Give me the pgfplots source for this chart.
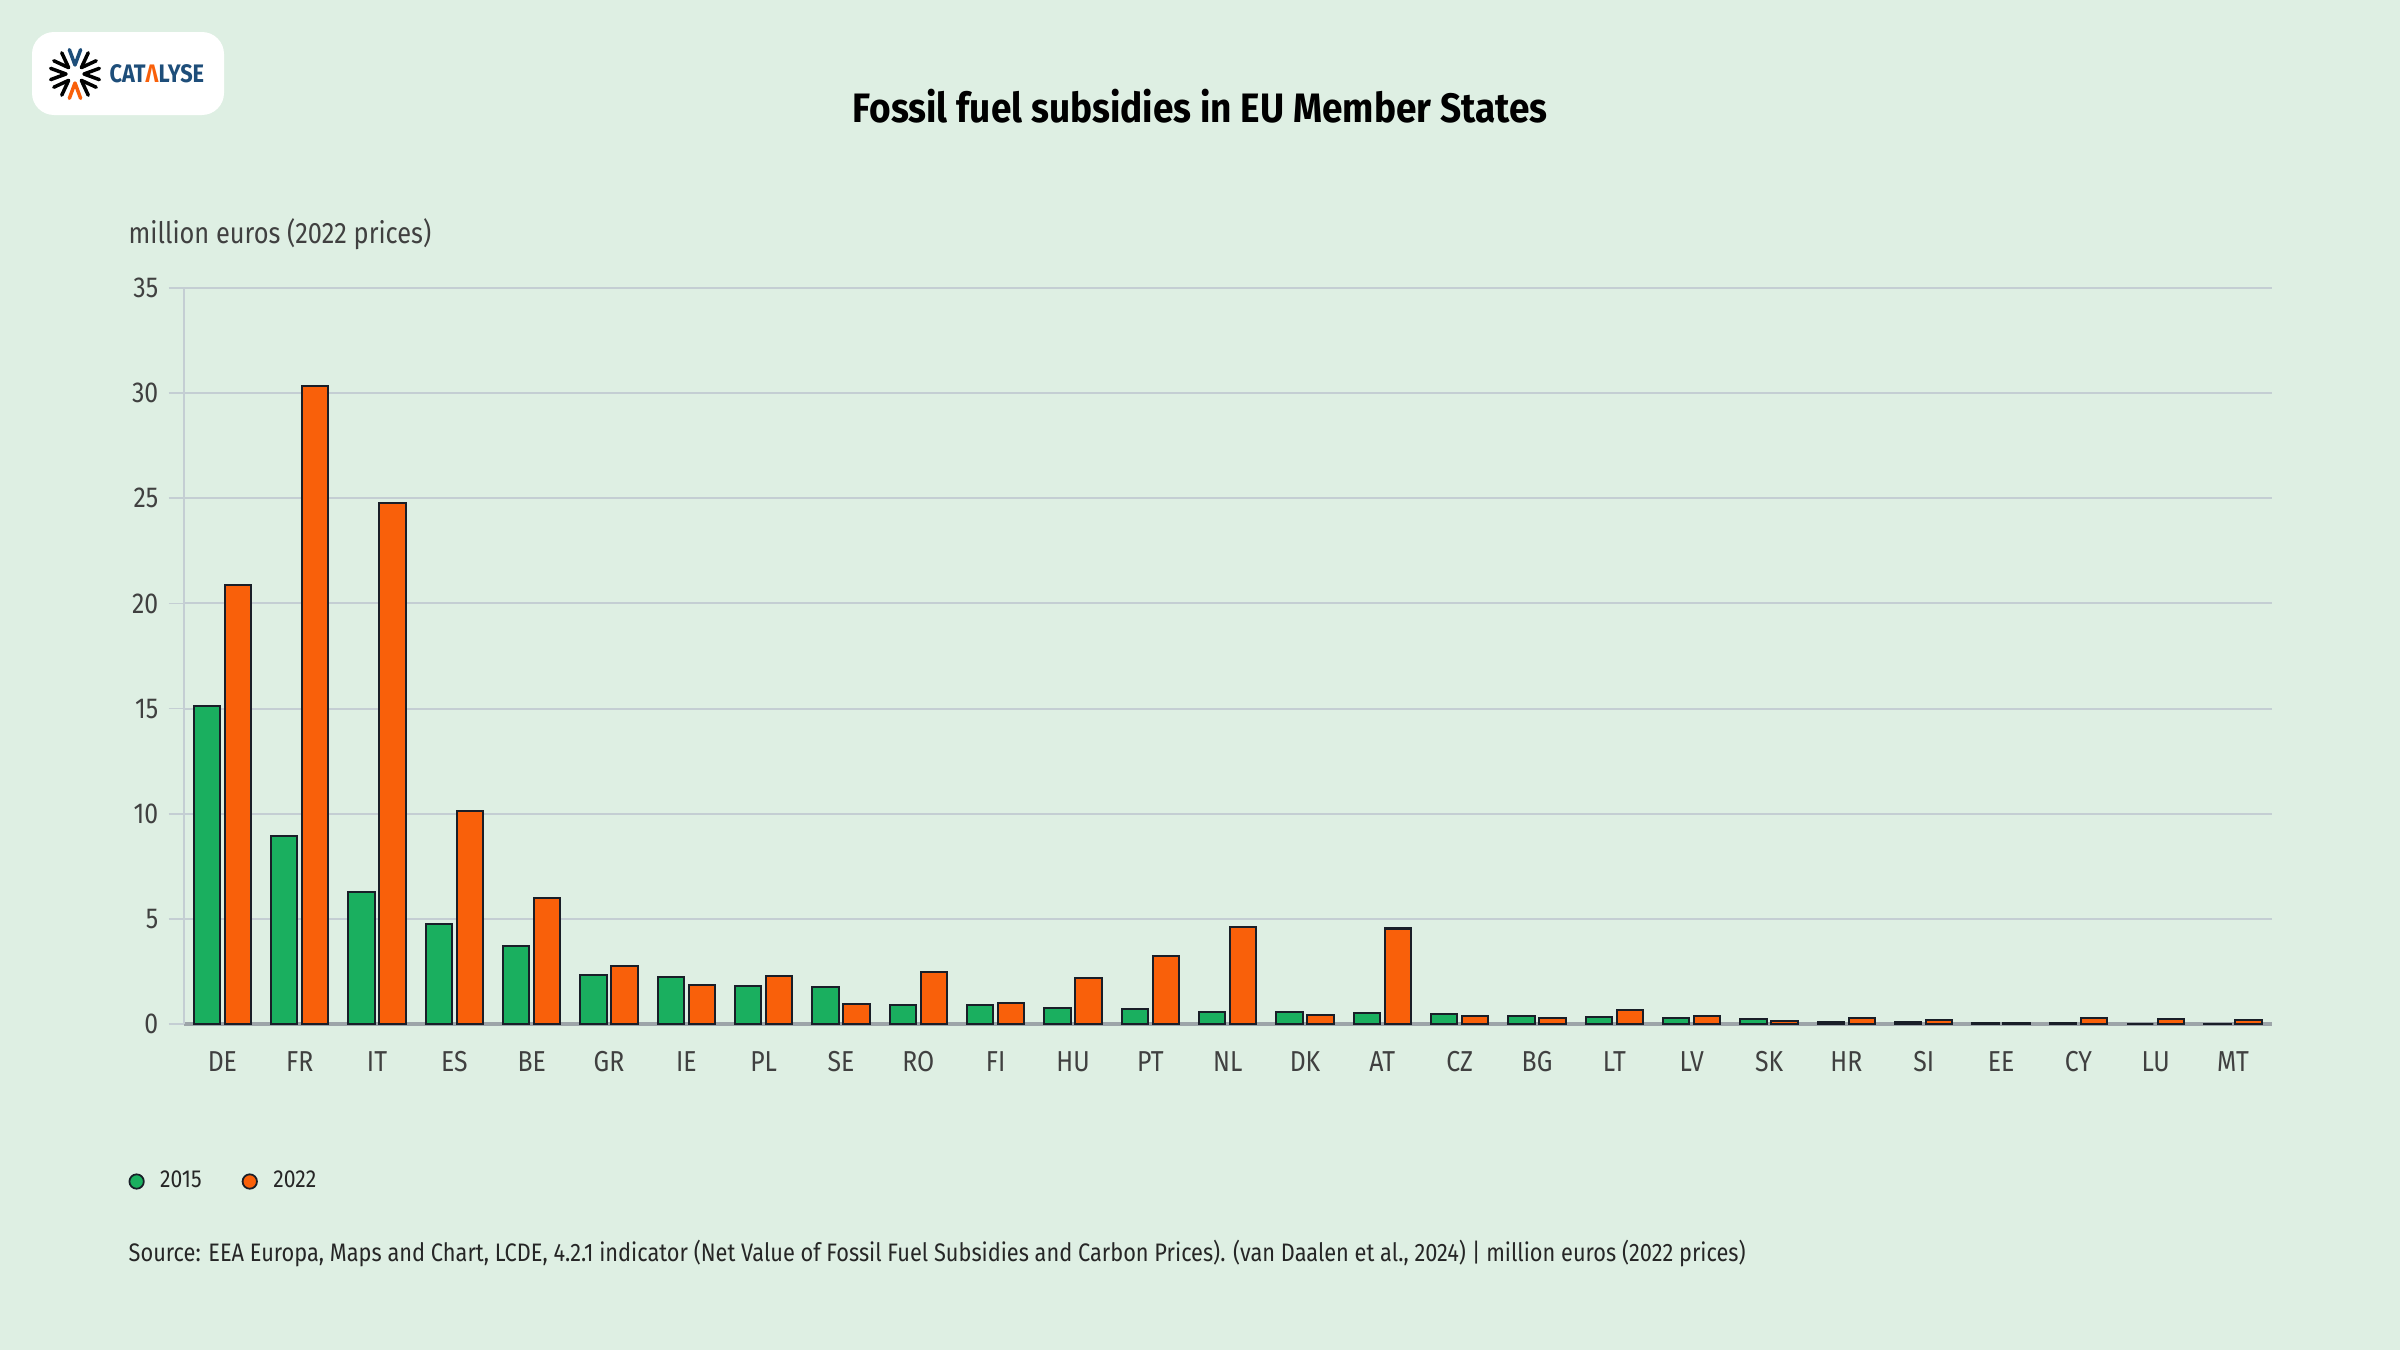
\documentclass[border=0pt]{standalone}
\usepackage{pgfplots}
\usepackage{pgfplotstable}
\pgfplotsset{compat=1.18}
\usepackage{fontspec}
\setmainfont{Fira Sans}[FakeStretch=0.86]
\newfontfamily\titlefont{Fira Sans}[FakeStretch=0.9]
\definecolor{bg}{RGB}{222,239,227}
\definecolor{gbar}{RGB}{26,175,95}
\definecolor{obar}{RGB}{249,96,10}
\definecolor{outl}{RGB}{25,30,40}
\definecolor{gridc}{RGB}{196,206,211}
\definecolor{txt}{RGB}{64,64,64}
\definecolor{navy}{RGB}{30,78,122}

\pgfplotstableread{
x v
0 15.14
1 8.94
2 6.28
3 4.75
4 3.71
5 2.33
6 2.25
7 1.82
8 1.74
9 0.92
10 0.90
11 0.78
12 0.71
13 0.57
14 0.58
15 0.53
16 0.48
17 0.38
18 0.32
19 0.27
20 0.24
21 0.10
22 0.10
23 0.06
24 0.04
25 0.00
26 0.02
}\dataA

\pgfplotstableread{
x v
0 20.86
1 30.33
2 24.76
3 10.12
4 5.98
5 2.77
6 1.86
7 2.29
8 0.96
9 2.47
10 1.00
11 2.20
12 3.23
13 4.61
14 0.43
15 4.54
16 0.40
17 0.30
18 0.67
19 0.40
20 0.16
21 0.27
22 0.19
23 0.04
24 0.30
25 0.24
26 0.19
}\dataB

\begin{document}
\begin{tikzpicture}[x=1mm,y=1mm]
\fill[bg] (0,0) rectangle (240,135);
% logo
\fill[white,rounded corners=2.2mm] (3.2,123.5) rectangle (22.4,131.8);
\begin{scope}[shift={(7.5,127.6)}, line width=0.35mm, line cap=round, line join=round]
\foreach \a/\c in {90/navy, 45/{RGB:red,30;green,115;blue,190}, 0/{RGB:red,107;green,179;blue,201}, -45/{RGB:red,140;green,188;blue,200}, -90/obar, -135/{RGB:red,47;green,107;blue,90}, 180/{RGB:red,42;green,157;blue,92}, 135/{RGB:red,168;green,213;blue,185}}{
  \draw[color=\c] (\a+13:2.5) -- (\a:0.9) -- (\a-13:2.5);
}
\end{scope}
\node[anchor=west, inner sep=0pt, text=navy, font=\fontsize{7.2}{8}\selectfont\bfseries] at (10.9,127.6) {CAT{\color{obar}Λ}LYSE};
% title
\node[anchor=base, inner sep=0pt, text=black, font=\titlefont\fontsize{11.7}{13}\selectfont\bfseries] at (120,122.8) {Fossil fuel subsidies in EU Member States};
% y axis title
\node[anchor=base west, inner sep=0pt, text=txt, font=\fontsize{8.4}{10}\selectfont] at (12.8,110.7) {million euros (2022 prices)};
% source
\node[anchor=base west, inner sep=0pt, text=black!85, font=\fontsize{7.2}{8}\selectfont] at (12.8,8.9) {Source: EEA Europa, Maps and Chart, LCDE, 4.2.1 indicator (Net Value of Fossil Fuel Subsidies and Carbon Prices). (van Daalen et al., 2024) | million euros (2022 prices)};

\begin{axis}[
  at={(18.37mm,32.6mm)}, anchor=south west,
  width=208.8mm, height=73.6mm, scale only axis,
  xmin=-0.5, xmax=26.5, ymin=0, ymax=35,
  xtick={0,...,26},
  xticklabels={DE,FR,IT,ES,BE,GR,IE,PL,SE,RO,FI,HU,PT,NL,DK,AT,CZ,BG,LT,LV,SK,HR,SI,EE,CY,LU,MT},
  ytick={0,5,...,35},
  /pgf/number format/assume math mode=true,
  axis x line*=bottom, axis y line*=left,
  x axis line style={draw=gridc!80!black, line width=0.9pt, -},
  y axis line style={draw=gridc, line width=0.5pt, -},
  ymajorgrids, grid style={draw=gridc, line width=0.55pt},
  xtick style={draw=none},
  ytick style={draw=gridc, line width=0.5pt},
  tick align=outside, major tick length=1.5mm,
  tick label style={text=txt, font=\fontsize{8.2}{10}\selectfont},
  xticklabel style={yshift=0mm},
  yticklabel style={xshift=0.2mm},
  legend columns=2,
  legend style={at={(-0.0318,-0.214)}, anchor=west, draw=none, fill=none,
     font=\fontsize{7.0}{8}\selectfont, text=black!85,
     /tikz/every even column/.append style={column sep=3.3mm}},
]
\addplot[ybar, bar width=0.34, bar shift=-0.2, fill=gbar, draw=outl, line width=0.6pt,
   legend image code/.code={\draw[fill=gbar,draw=outl,line width=0.5pt] (0mm,0mm) circle (0.72mm);\path[draw=none,fill=none] (-0.72mm,0) -- (1.65mm,0);}]
   table[x=x,y=v] {\dataA};
\addlegendentry{2015}
\addplot[ybar, bar width=0.34, bar shift=0.2, fill=obar, draw=outl, line width=0.6pt,
   legend image code/.code={\draw[fill=obar,draw=outl,line width=0.5pt] (0mm,0mm) circle (0.72mm);\path[draw=none,fill=none] (-0.72mm,0) -- (1.65mm,0);}]
   table[x=x,y=v] {\dataB};
\addlegendentry{2022}
\end{axis}
\end{tikzpicture}
\end{document}
